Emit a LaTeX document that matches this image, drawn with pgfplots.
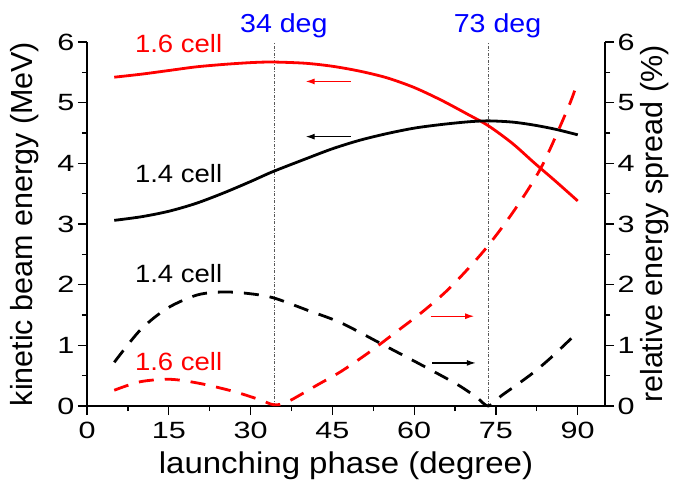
\documentclass[border=0pt]{standalone}
\usepackage{fontspec}
\setmainfont{Liberation Sans}[FakeStretch=1.1]
\newfontfamily\tickfont{Liberation Sans}[FakeStretch=1.3]
\newfontfamily\ylabfont{Liberation Sans}
\usepackage{pgfplots}
\pgfplotsset{compat=1.18}
\usetikzlibrary{arrows.meta}
\tikzset{
 dashedline/.style={line width=2.8bp, dash pattern=on 15bp off 11bp},
 vline/.style={gray!70!black, line width=0.7bp, dash pattern=on 3bp off 1.5bp on 1bp off 1.5bp},
}
\pgfplotsset{
 common/.style={
  scale only axis, width=518bp, height=364bp, at={(0,0)}, anchor=south west,
  xmin=0,xmax=95,ymin=0,ymax=6,
  tick align=outside, major tick length=9bp, minor tick length=5bp,
  axis line style={line width=1.5bp},
  tick style={black,line width=1.3bp},
  ytick={0,1,2,3,4,5,6}, minor y tick num=1,
  /pgf/number format/assume math mode=true,
  tick label style={font=\tickfont\fontsize{23.5bp}{24bp}\selectfont},
  clip=false,
 },
}
\begin{document}
\begin{tikzpicture}
\useasboundingbox (-87bp,-78bp) rectangle (592bp,406bp);
\begin{axis}[common,
  axis y line*=left, axis x line*=bottom,
  xtick={0,15,...,90}, minor x tick num=1,
  xticklabel style={yshift=-4bp},
  xlabel={launching phase (degree)},
  ylabel={kinetic beam energy (MeV)},
  xlabel style={font=\fontsize{30bp}{32bp}\selectfont, at={(axis description cs:0.5,0)}, anchor=base, yshift=-67bp},
  ylabel style={font=\ylabfont\fontsize{30.5bp}{32bp}\selectfont, at={(axis description cs:0,0.5)}, anchor=center, yshift=62bp},
]
\draw[vline] (axis cs:34.3,0) -- (axis cs:34.3,6);
\draw[vline] (axis cs:73.6,0) -- (axis cs:73.6,6);
\addplot[red, line width=2.8bp, smooth] coordinates {
(5,5.42)(10,5.47)(15,5.53)(20,5.59)(25,5.63)(30,5.66)(34,5.67)(40,5.65)(45,5.60)(50,5.52)(55,5.41)(60,5.25)(65,5.04)(70,4.80)(73.6,4.62)(78,4.33)(82,4.01)(86,3.70)(90,3.38)};
\addplot[black, line width=2.8bp, smooth] coordinates {
(5,3.06)(10,3.12)(15,3.21)(20,3.34)(25,3.51)(30,3.70)(34,3.86)(40,4.07)(45,4.24)(50,4.38)(55,4.49)(60,4.58)(65,4.64)(70,4.685)(73.6,4.70)(78,4.68)(82,4.63)(86,4.56)(90,4.47)};
\draw[red, line width=1.2bp, -{Latex[length=9bp,width=6bp]}] (axis cs:48.4,5.35) -- (axis cs:40.1,5.35);
\draw[black, line width=1.2bp, -{Latex[length=9bp,width=6bp]}] (axis cs:48.4,4.44) -- (axis cs:40.1,4.44);
\draw[red, line width=1.2bp, -{Latex[length=9bp,width=6bp]}] (axis cs:63.0,1.48) -- (axis cs:71.0,1.48);
\draw[black, line width=1.2bp, -{Latex[length=9bp,width=6bp]}] (axis cs:63.3,0.71) -- (axis cs:71.3,0.71);
\node[red, anchor=base, font=\fontsize{25bp}{26bp}\selectfont] at (axis cs:16.8,5.82) {1.6 cell};
\node[black, anchor=base, font=\fontsize{25bp}{26bp}\selectfont] at (axis cs:16.8,3.68) {1.4 cell};
\node[black, anchor=base, font=\fontsize{25bp}{26bp}\selectfont] at (axis cs:16.8,2.03) {1.4 cell};
\node[red, anchor=base, font=\fontsize{25bp}{26bp}\selectfont] at (axis cs:16.8,0.59) {1.6 cell};
\node[blue, anchor=base, font=\fontsize{26bp}{27bp}\selectfont] at (axis cs:36.1,6.15) {34 deg};
\node[blue, anchor=base, font=\fontsize{26bp}{27bp}\selectfont] at (axis cs:75.3,6.15) {73 deg};
\end{axis}
\begin{axis}[common,
  axis y line*=right, axis x line=none,
  ylabel={relative energy spread (\%)},
  ylabel style={font=\ylabfont\fontsize{30.5bp}{32bp}\selectfont, at={(axis description cs:1,0.5)}, anchor=center, yshift=-50bp},
]
\addplot[black, dashedline, smooth] coordinates {
(5,0.72)(9.75,1.25)(14.7,1.61)(20.2,1.83)(25.1,1.88)(30,1.85)(34.3,1.78)(40.4,1.58)(46.6,1.37)(54.5,1.0)(61.9,0.65)(68,0.35)(71.5,0.14)(73.6,0.0)(76,0.17)(79,0.36)(82,0.56)(85,0.79)(88.3,1.07)(90,1.22)};
\addplot[red, dashedline, smooth] coordinates {
(5,0.26)(9.75,0.40)(15.3,0.44)(20.8,0.37)(26.9,0.24)(31.8,0.10)(34.3,0.02)(36.8,0.07)(42.3,0.35)(46.6,0.57)(51.5,0.87)(56.4,1.20)(61.9,1.58)(66.8,1.97)(72.9,2.57)(78.4,3.23)(83.4,3.95)(88.3,4.93)(90,5.35)};
\end{axis}
\end{tikzpicture}
\end{document}
